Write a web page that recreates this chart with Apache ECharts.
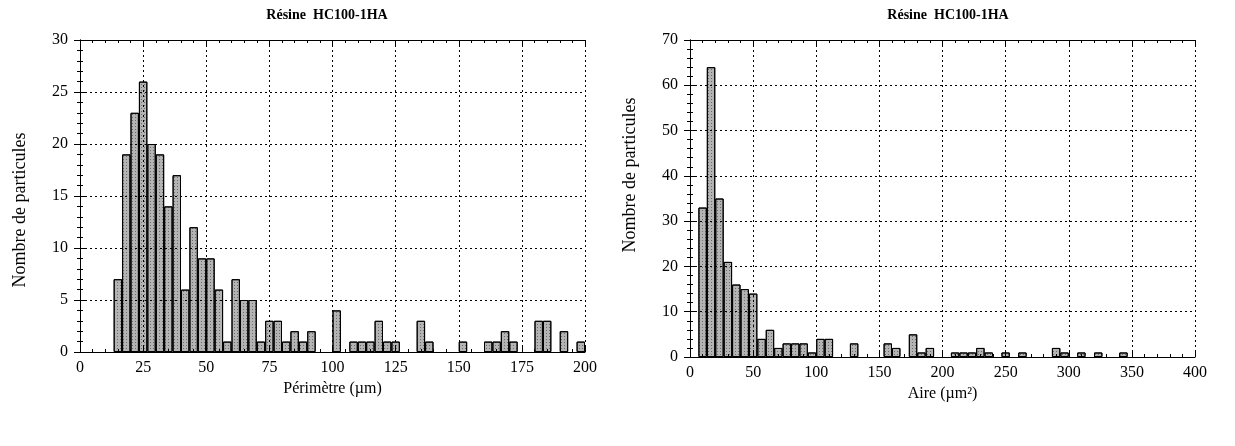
<!DOCTYPE html>
<html>
<head>
<meta charset="utf-8">
<script src="https://cdn.jsdelivr.net/npm/echarts@6/dist/echarts.min.js"></script>
<style>
html,body{margin:0;padding:0;background:#fff;}
#chart{width:1235px;height:446px;}
</style>
</head>
<body>
<div id="chart"></div>
<script>
// ---- data ----
const chartTitle = 'Résine  HC100-1HA';
const yAxisTitle = 'Nombre de particules';
const perimeterTitle = 'Périmètre (µm)';
const areaTitle = 'Aire (µm²)';

// Left histogram: Périmètre, 0..200 µm, 60 bins
const perimeterMin = 0, perimeterMax = 200, perimeterTick = 25;
const perimeterCountMax = 30, perimeterCountTick = 5;
const perimeterCounts = [0,0,0,0,7,19,23,26,20,19,14,17,6,12,9,9,6,1,7,5,5,1,3,3,1,2,1,2,0,0,4,0,1,1,1,3,1,1,0,0,3,1,0,0,0,1,0,0,1,1,2,1,0,0,3,3,0,2,0,1];

// Right histogram: Aire, 0..400 µm², 60 bins
const areaMin = 0, areaMax = 400, areaTick = 50;
const areaCountMax = 70, areaCountTick = 10;
const areaCounts = [0,33,64,35,21,16,15,14,4,6,2,3,3,3,1,4,4,0,0,3,0,0,0,3,2,0,5,1,2,0,0,1,1,1,2,1,0,1,0,1,0,0,0,2,1,0,1,0,1,0,0,1,0,0,0,0,0,0,0,0];

// ---- chart ----
const FONT = '"Liberation Serif", "DejaVu Serif", serif';
const chart = echarts.init(document.getElementById('chart'), null, {renderer: 'canvas'});

const grids = [
  {left: 80, top: 40, width: 505, height: 312},
  {left: 690, top: 40, width: 505, height: 317}
];

function binCats(counts, lo, hi) {
  const w = (hi - lo) / counts.length;
  return counts.map((_, i) => String(lo + i * w));
}

const dotted = {color: '#000', width: 1, type: [2, 3]};

function valueAxisX(gi, min, max, interval, name, position, nameGap) {
  const bottom = position === 'bottom';
  return {
    type: 'value', gridIndex: gi, position: position, min: min, max: max, interval: interval,
    name: bottom ? name : '', nameLocation: 'middle', nameGap: nameGap || 28,
    nameTextStyle: {fontFamily: FONT, fontSize: 16, color: '#000'},
    axisLine: {show: true, lineStyle: {color: '#000', width: 1}},
    axisTick: {show: true, inside: true, length: 6, lineStyle: {color: '#000'}},
    minorTick: {show: true, splitNumber: 5, length: 3, lineStyle: {color: '#000'}},
    axisLabel: {show: bottom, fontFamily: FONT, fontSize: 16, color: '#000', margin: 8},
    splitLine: {show: bottom, lineStyle: dotted},
    z: 5
  };
}
function valueAxisY(gi, min, max, interval, position) {
  const left = position === 'left';
  return {
    type: 'value', gridIndex: gi, position: position, min: min, max: max, interval: interval,
    axisLine: {show: true, lineStyle: {color: '#000', width: 1}},
    axisTick: {show: true, inside: true, length: 6, lineStyle: {color: '#000'}},
    minorTick: {show: true, splitNumber: 5, length: 3, lineStyle: {color: '#000'}},
    axisLabel: {show: left, fontFamily: FONT, fontSize: 16, color: '#000', margin: 12},
    splitLine: {show: left, lineStyle: dotted},
    z: 5
  };
}
function catAxis(gi, counts, lo, hi) {
  return {
    type: 'category', gridIndex: gi, data: binCats(counts, lo, hi), boundaryGap: true,
    show: false
  };
}

const barStyle = {
  color: '#b4b4b4',
  borderColor: '#000',
  borderWidth: 1,
  decal: {
    symbol: 'rect', symbolSize: 1, color: 'rgba(50,50,50,0.55)',
    dashArrayX: [1, 2], dashArrayY: [1, 2], rotation: 0
  }
};

const option = {
  backgroundColor: '#fff',
  animation: false,
  title: [
    {text: chartTitle, left: 322, top: 3, textAlign: 'center',
     textStyle: {fontFamily: FONT, fontSize: 14, fontWeight: 'bold', color: '#000'}},
    {text: chartTitle, left: 943, top: 3, textAlign: 'center',
     textStyle: {fontFamily: FONT, fontSize: 14, fontWeight: 'bold', color: '#000'}}
  ],
  graphic: [
    {type: 'text', x: 20, y: 210, rotation: Math.PI / 2,
     style: {text: yAxisTitle, font: '18px ' + FONT, fill: '#000', textAlign: 'center', textVerticalAlign: 'middle'}},
    {type: 'text', x: 630, y: 175, rotation: Math.PI / 2,
     style: {text: yAxisTitle, font: '18px ' + FONT, fill: '#000', textAlign: 'center', textVerticalAlign: 'middle'}}
  ],
  grid: grids,
  xAxis: [
    valueAxisX(0, perimeterMin, perimeterMax, perimeterTick, perimeterTitle, 'bottom', 28),
    catAxis(0, perimeterCounts, perimeterMin, perimeterMax),
    valueAxisX(0, perimeterMin, perimeterMax, perimeterTick, '', 'top'),
    valueAxisX(1, areaMin, areaMax, areaTick, areaTitle, 'bottom', 27),
    catAxis(1, areaCounts, areaMin, areaMax),
    valueAxisX(1, areaMin, areaMax, areaTick, '', 'top')
  ],
  yAxis: [
    valueAxisY(0, 0, perimeterCountMax, perimeterCountTick, 'left'),
    valueAxisY(0, 0, perimeterCountMax, perimeterCountTick, 'right'),
    valueAxisY(1, 0, areaCountMax, areaCountTick, 'left'),
    valueAxisY(1, 0, areaCountMax, areaCountTick, 'right')
  ],
  series: [
    {type: 'bar', xAxisIndex: 1, yAxisIndex: 0, barCategoryGap: '0%',
     data: perimeterCounts.map(v => v === 0 ? '-' : v), itemStyle: barStyle, z: 3},
    {type: 'bar', xAxisIndex: 4, yAxisIndex: 2, barCategoryGap: '0%',
     data: areaCounts.map(v => v === 0 ? '-' : v), itemStyle: barStyle, z: 3}
  ]
};
chart.setOption(option);
</script>
</body>
</html>
